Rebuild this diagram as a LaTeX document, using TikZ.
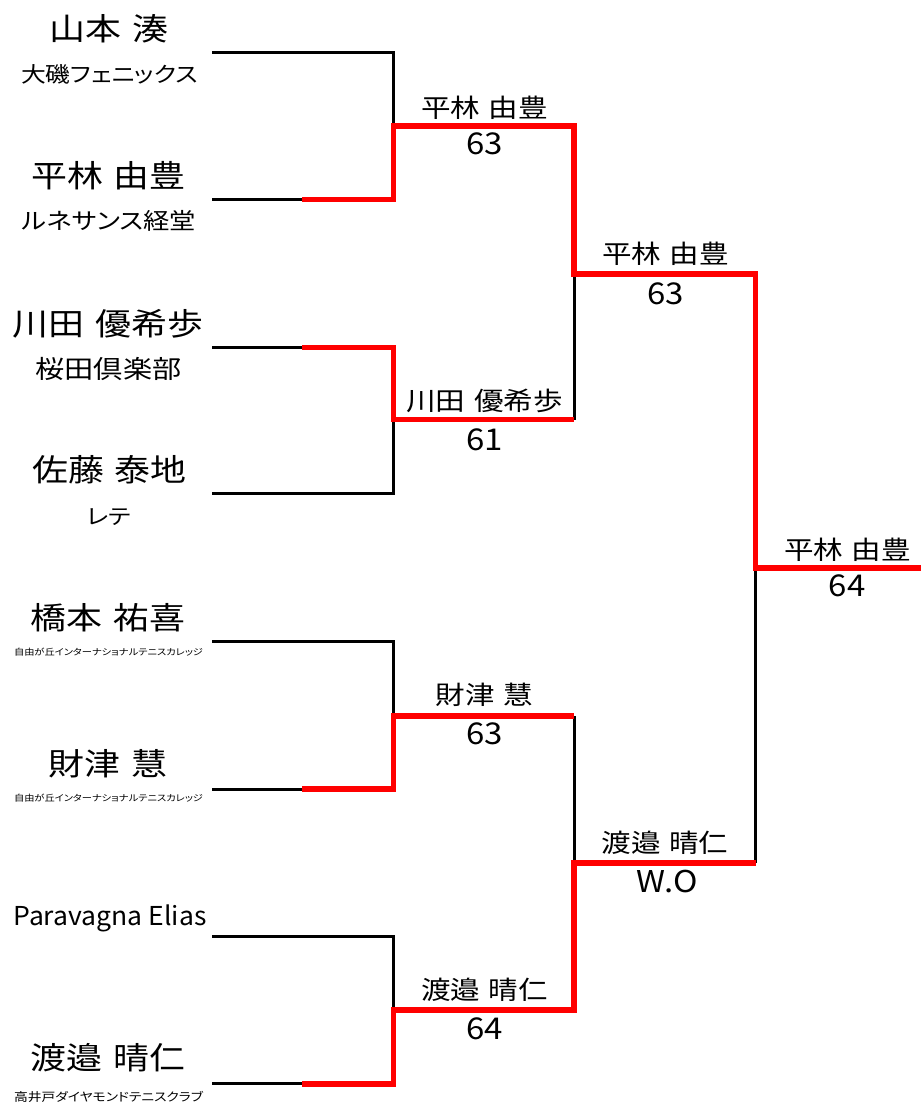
\documentclass[tikz,border=0pt]{standalone}
\usepackage{fontspec}
\setmainfont{Noto Sans CJK JP}[FakeStretch=1.16, WordSpace=1.3]
\newfontfamily\jpp{Noto Sans CJK JP}[FakeStretch=1.16, RawFeature=+palt]
\newfontfamily\latf{Noto Sans CJK JP}[FakeStretch=1.02]
\newfontfamily\digf{Noto Sans CJK JP}[FakeStretch=1.1]
\newlength\fitlen
\newcommand\fitw[2]{\settowidth\fitlen{\jpp\fontsize{10}{12}\selectfont #2}\pgfmathsetmacro\fitfs{10*#1/\fitlen}\jpp\fontsize{\fitfs}{\fitfs}\selectfont #2}
\tikzset{
  blk/.style={line width=3pt, black},
  win/.style={line width=5.7pt, red, line join=miter},
  pname/.style={inner sep=0pt, font=\fontsize{31}{36}\selectfont},
  club/.style={inner sep=0pt},
  wname/.style={inner sep=0pt, font=\fontsize{25.5}{30}\selectfont},
  score/.style={inner sep=0pt, font=\digf\fontsize{30}{34}\selectfont},
}
\begin{document}
\begin{tikzpicture}[x=1pt,y=-1pt]
\useasboundingbox (0,0) rectangle (921,1104);
% player lines
\coordinate (L1) at (212,52);    \coordinate (C1) at (393.5,52);
\coordinate (L2) at (212,199.5); \coordinate (S2) at (302,199.5); \coordinate (C2) at (393.5,199.5);
\coordinate (L3) at (212,347.5); \coordinate (S3) at (302,347.5); \coordinate (C3) at (393.5,347.5);
\coordinate (L4) at (212,493.7); \coordinate (C4) at (393.5,493.7);
\coordinate (L5) at (212,641.7); \coordinate (C5) at (393.5,641.7);
\coordinate (L6) at (212,789);   \coordinate (S6) at (302,789);   \coordinate (C6) at (393.5,789);
\coordinate (L7) at (212,936.7); \coordinate (C7) at (393.5,936.7);
\coordinate (L8) at (212,1083.8);\coordinate (S8) at (302,1083.8);\coordinate (C8) at (393.5,1083.8);
% first round
\coordinate (M1) at (393.5,126);  \coordinate (M1r) at (574,126);
\coordinate (M2) at (393.5,419.5);\coordinate (M2r) at (574,419.5);
\coordinate (M3) at (393.5,716);  \coordinate (M3r) at (574,716);
\coordinate (M4) at (393.5,1010); \coordinate (M4r) at (574,1010);
% semi finals
\coordinate (T1) at (574,274); \coordinate (T1r) at (755.5,274);
\coordinate (T2) at (574,863); \coordinate (T2r) at (755.5,863);
% final
\coordinate (F) at (755.5,568); \coordinate (Fr) at (921,568);

% black lines
\draw[blk] (L1) -- (C1) -- (M1);
\draw[blk] (L2) -- (S2);
\draw[blk] (L3) -- (S3);
\draw[blk] (L4) -- (C4) -- (M2);
\draw[blk] (L5) -- (C5) -- (M3);
\draw[blk] (L6) -- (S6);
\draw[blk] (L7) -- (C7) -- (M4);
\draw[blk] (L8) -- (S8);
\draw[blk] (M2r) -- (T1);
\draw[blk] (M3r) -- (T2);
\draw[blk] (T2r) -- (F);

% red winner lines
\draw[win] (S2) -- (C2) -- (M1) -- (M1r) -- (T1) -- (T1r) -- (F) -- (Fr);
\draw[win] (S3) -- (C3) -- (M2) -- (M2r);
\draw[win] (S6) -- (C6) -- (M3) -- (M3r);
\draw[win] (S8) -- (C8) -- (M4) -- (M4r) -- (T2) -- (T2r);

% players
\node[pname] (n1) at (109,29) {山本 湊};
\node[club] (c1) at (109.5,74.5) {\fitw{177}{大磯フェニックス}};
\node[pname] (n2) at (108.5,175.5) {平林 由豊};
\node[club] (c2) at (109,220.5) {\fitw{174}{ルネサンス経堂}};
\node[pname] (n3) at (108,324) {川田 優希歩};
\node[club] (c3) at (108.5,369) {\fitw{146}{桜田倶楽部}};
\node[pname] (n4) at (109.5,470) {佐藤 泰地};
\node[club] (c4) at (109,517.5) {\fitw{44}{レテ}};
\node[pname] (n5) at (108,617.5) {橋本 祐喜};
\node[club] (c5) at (108.5,652) {\fitw{189}{自由が丘インターナショナルテニスカレッジ}};
\node[pname] (n6) at (108,764) {財津 慧};
\node[club] (c6) at (108.5,798.5) {\fitw{189}{自由が丘インターナショナルテニスカレッジ}};
\node[inner sep=0pt, anchor=base, font=\latf\fontsize{26}{30}\selectfont] (n7) at (110,925) {Paravagna Elias};
\node[pname] (n8) at (108,1058) {渡邉 晴仁};
\node[club] (c8) at (108.5,1097) {\fitw{189}{高井戸ダイヤモンドテニスクラブ}};

% round 1 winners
\node[wname] (w1) at (484.5,108) {平林 由豊};
\node[score] (s1) at (484.5,144) {63};
\node[wname] (w2) at (484.5,401) {川田 優希歩};
\node[score] (s2) at (484.5,440) {61};
\node[wname] (w3) at (484.5,695) {財津 慧};
\node[score] (s3) at (484.5,733.5) {63};
\node[wname] (w4) at (484.5,990) {渡邉 晴仁};
\node[score] (s4) at (484.5,1029) {64};
% semi winners
\node[wname] (w5) at (665.5,254) {平林 由豊};
\node[score] (s5) at (665.5,293.5) {63};
\node[wname] (w6) at (665,843) {渡邉 晴仁};
\node[score] (s6) at (667.5,881) {W.O};
% final
\node[wname] (w7) at (847.5,550) {平林 由豊};
\node[score] (s7) at (847,586) {64};
\end{tikzpicture}
\end{document}
